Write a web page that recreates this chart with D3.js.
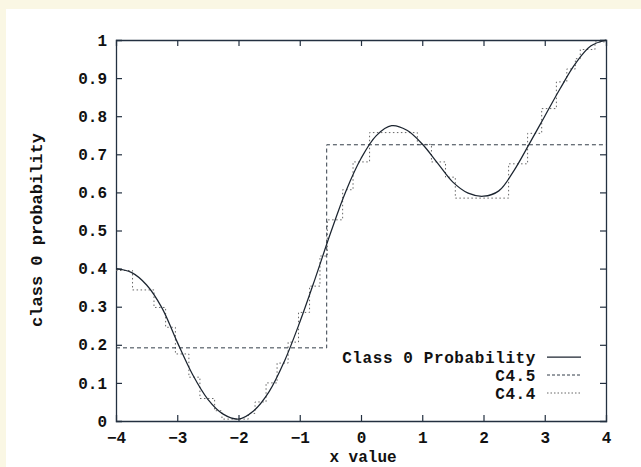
<!DOCTYPE html>
<html>
<head>
<meta charset="utf-8">
<script src="https://cdn.jsdelivr.net/npm/d3@7/dist/d3.min.js"></script>
<style>
  html, body { margin: 0; padding: 0; background: #faf7e4; }
  svg { display: block; }
  text { font-family: "Liberation Mono", "Courier New", monospace; font-weight: bold; fill: #111; }
</style>
</head>
<body>
<svg id="chart" width="641" height="467"></svg>
<script>
// Class 0 probability sampled along x
const curveX = [-4, -3.75, -3.5, -3.25, -3, -2.75, -2.5, -2.25, -2, -1.75, -1.5, -1.25, -1,
                -0.75, -0.5, -0.25, 0, 0.25, 0.5, 0.75, 1, 1.25, 1.5, 1.75, 2, 2.25, 2.5,
                2.75, 3, 3.25, 3.5, 3.75, 4];
const curveP = [0.40, 0.39, 0.357, 0.297, 0.207, 0.122, 0.057, 0.018, 0.005, 0.027, 0.077, 0.157, 0.259,
                0.373, 0.492, 0.602, 0.689, 0.749, 0.775, 0.763, 0.727, 0.677, 0.627, 0.598, 0.59, 0.604, 0.658,
                0.728, 0.80, 0.872, 0.938, 0.984, 1.0];

// C4.5 piecewise-constant estimate: edges and level of each piece
const c45Edges = [-4, -0.56, 4];
const c45Levels = [0.192, 0.725];

// C4.4 piecewise-constant estimate
const c44Edges = [-4, -3.73, -3.38, -3.19, -3.03, -2.81, -2.63, -2.39, -2.27, -1.84, -1.73, -1.55, -1.37,
                  -1.19, -1.02, -0.84, -0.67, -0.55, -0.30, -0.13, 0.14, 0.92, 1.15, 1.38, 1.54, 2.41,
                  2.72, 2.95, 3.19, 3.36, 3.50, 3.58, 3.82, 4];
const c44Levels = [0.395, 0.344, 0.298, 0.246, 0.176, 0.115, 0.059, 0.027, 0.005, 0.02, 0.05, 0.10, 0.152,
                   0.207, 0.285, 0.354, 0.433, 0.528, 0.607, 0.68, 0.757, 0.726, 0.68, 0.64, 0.585,
                   0.675, 0.755, 0.82, 0.89, 0.924, 0.951, 0.975, 0.995];

const xTicks = [-4, -3, -2, -1, 0, 1, 2, 3, 4];
const yTicks = [0, 0.1, 0.2, 0.3, 0.4, 0.5, 0.6, 0.7, 0.8, 0.9, 1];
const yTickLabels = ["0", "0.1", "0.2", "0.3", "0.4", "0.5", "0.6", "0.7", "0.8", "0.9", "1"];

const legendNames = ["Class 0 Probability", "C4.5", "C4.4"];

const svg = d3.select("#chart");

// white page inside the cream border
svg.append("rect").attr("x", 6).attr("y", 9).attr("width", 635).attr("height", 458).attr("fill", "#ffffff");

const plotLeft = 116, plotRight = 606, plotTop = 40, plotBottom = 421;
const x = d3.scaleLinear().domain([-4, 4]).range([plotLeft, plotRight]);
const y = d3.scaleLinear().domain([0, 1]).range([plotBottom, plotTop]);

const axisColor = "#233040";
const tickLen = 6;

// axes with inward ticks on all four sides
const axB = svg.append("g").attr("transform", `translate(0,${plotBottom})`)
  .call(d3.axisBottom(x).tickValues(xTicks).tickSize(-tickLen).tickPadding(10).tickFormat(d3.format("d")));
const axT = svg.append("g").attr("transform", `translate(0,${plotTop})`)
  .call(d3.axisTop(x).tickValues(xTicks).tickSize(-tickLen).tickFormat(""));
const axL = svg.append("g").attr("transform", `translate(${plotLeft},0)`)
  .call(d3.axisLeft(y).tickValues(yTicks).tickSize(-tickLen).tickPadding(9).tickFormat((d, i) => yTickLabels[i]));
const axR = svg.append("g").attr("transform", `translate(${plotRight},0)`)
  .call(d3.axisRight(y).tickValues(yTicks).tickSize(-tickLen).tickFormat(""));

[axB, axT, axL, axR].forEach(g => {
  g.select(".domain").attr("stroke", axisColor).attr("stroke-width", 1.3);
  g.selectAll(".tick line").attr("stroke", axisColor).attr("stroke-width", 1.2);
  g.selectAll("text").attr("font-size", 16).attr("font-family", "Liberation Mono, Courier New, monospace")
    .attr("font-weight", "bold").attr("fill", "#111");
});
// hide ticks sitting on the corners
axB.selectAll(".tick").filter(d => d === -4 || d === 4).select("line").remove();
axT.selectAll(".tick").filter(d => d === -4 || d === 4).remove();
axL.selectAll(".tick").filter(d => d === 0 || d === 1).select("line").remove();
axR.selectAll(".tick").filter(d => d === 0 || d === 1).remove();
axB.selectAll("text").attr("dy", "0.75em");

// axis titles
svg.append("text").attr("x", 363).attr("y", 462).attr("text-anchor", "middle")
  .attr("font-size", 16).text("x value");
svg.append("text").attr("transform", "translate(42,230) rotate(-90)").attr("text-anchor", "middle")
  .attr("font-size", 17).text("class 0 probability");

// step data to points
function stepPoints(edges, levels) {
  const pts = levels.map((v, i) => [edges[i], v]);
  pts.push([edges[edges.length - 1], levels[levels.length - 1]]);
  return pts;
}

const stepLine = d3.line().x(d => x(d[0])).y(d => y(d[1])).curve(d3.curveStepAfter);
const smoothLine = d3.line().x(d => x(d[0])).y(d => y(d[1])).curve(d3.curveCatmullRom.alpha(0.5));

const plot = svg.append("g");

plot.append("path").datum(stepPoints(c44Edges, c44Levels))
  .attr("d", stepLine).attr("fill", "none").attr("stroke", "#666")
  .attr("stroke-width", 1).attr("stroke-dasharray", "1.5,2.5");

plot.append("path").datum(stepPoints(c45Edges, c45Levels))
  .attr("d", stepLine).attr("fill", "none").attr("stroke", "#333d48")
  .attr("stroke-width", 1).attr("stroke-dasharray", "4,3");

plot.append("path").datum(curveX.map((v, i) => [v, curveP[i]]))
  .attr("d", smoothLine).attr("fill", "none").attr("stroke", "#1c2530")
  .attr("stroke-width", 1.25);

// legend
const legendStyles = [
  { dash: null, color: "#1c2530", width: 1.25 },
  { dash: "3,2", color: "#333d48", width: 1 },
  { dash: "1.5,2", color: "#666", width: 1 }
];
const lg = svg.append("g");
legendNames.forEach((name, i) => {
  const cy = 357 + i * 18;
  lg.append("text").attr("x", 536).attr("y", cy).attr("dy", "0.35em")
    .attr("text-anchor", "end").attr("font-size", 16).attr("letter-spacing", 0.6).text(name);
  const ln = lg.append("line").attr("x1", 547).attr("x2", 581).attr("y1", cy).attr("y2", cy)
    .attr("stroke", legendStyles[i].color).attr("stroke-width", legendStyles[i].width);
  if (legendStyles[i].dash) ln.attr("stroke-dasharray", legendStyles[i].dash);
});
</script>
</body>
</html>
